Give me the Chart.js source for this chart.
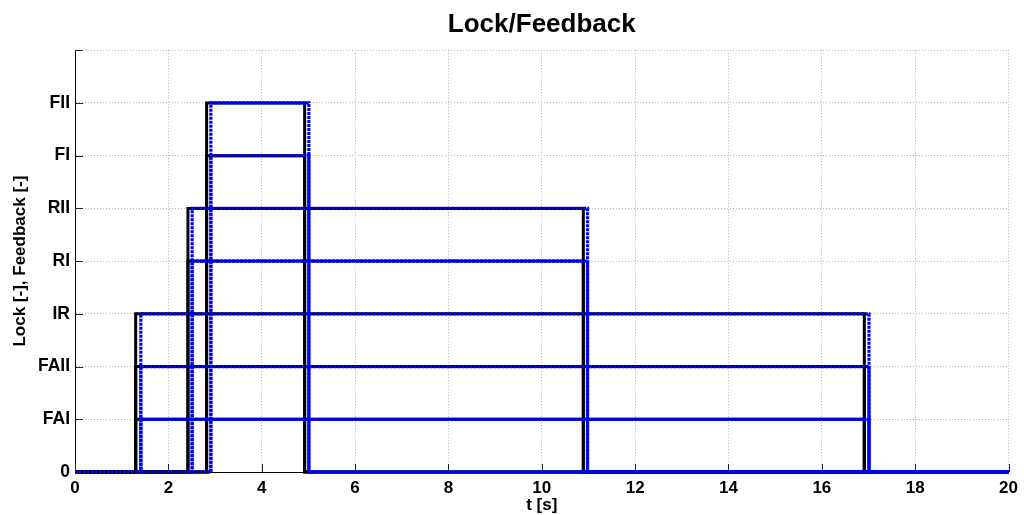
<!DOCTYPE html>
<html>
<head>
<meta charset="utf-8">
<script src="https://cdn.jsdelivr.net/npm/chart.js@4.4.1/dist/chart.umd.min.js"></script>
<style>
  html, body { margin: 0; padding: 0; background: #ffffff; }
  #wrap { width: 1024px; height: 515px; }
</style>
</head>
<body>
<div id="wrap"><canvas id="c" width="1024" height="515"></canvas></div>
<script>
// Y tick labels: state codes shown at integer levels 0..8
const levelNames = ['0', 'FAI', 'FAII', 'IR', 'RI', 'RII', 'FI', 'FII', ''];
// Channels and the level each one occupies while active
const channels = ['FAI', 'FAII', 'IR', 'RI', 'RII', 'FI', 'FII'];
const channelLevel = [1, 2, 3, 4, 5, 6, 7];
// Lock command switch-on / switch-off times [s]
const lockOn  = [1.30, 1.30, 1.30, 2.42, 2.42, 2.82, 2.82];
const lockOff = [16.91, 16.91, 16.91, 10.89, 10.89, 4.92, 4.92];
// Feedback switch-on / switch-off times [s]
const feedbackOn  = [1.41, 1.41, 1.41, 2.51, 2.51, 2.91, 2.91];
const feedbackOff = [17.01, 17.01, 17.01, 10.98, 10.98, 5.01, 5.01];
// Time axis
const tStart = 0;
const tEnd = 20;
const xTickStep = 2;

const FONT = "'Liberation Sans', Arial, Helvetica, sans-serif";

// Step signal: 0 -> level at tOn, level -> 0 at tOff
function stepSignal(level, tOn, tOff) {
  return [
    { x: tStart, y: 0 }, { x: tOn, y: 0 }, { x: tOn, y: level },
    { x: tOff, y: level }, { x: tOff, y: 0 }, { x: tEnd, y: 0 }
  ];
}

const datasets = [];
channels.forEach((name, i) => {
  datasets.push({
    label: 'Lock ' + name,
    data: stepSignal(channelLevel[i], lockOn[i], lockOff[i]),
    borderColor: '#000000',
    borderWidth: 3,
    order: 2
  });
});
channels.forEach((name, i) => {
  datasets.push({
    label: 'Feedback ' + name,
    data: stepSignal(channelLevel[i], feedbackOn[i], feedbackOff[i]),
    borderColor: '#0000ff',
    borderWidth: 3.2,
    borderDash: [3, 1],
    order: 1
  });
});

// Tick marks drawn inward from the axes
const innerTicks = {
  id: 'innerTicks',
  beforeDatasetsDraw(chart) {
    const { ctx, chartArea, scales } = chart;
    const len = 8;
    ctx.save();
    ctx.strokeStyle = '#262626';
    ctx.lineWidth = 1;
    ctx.beginPath();
    scales.x.ticks.forEach(t => {
      const px = Math.round(scales.x.getPixelForValue(t.value)) + 0.5;
      ctx.moveTo(px, chartArea.bottom);
      ctx.lineTo(px, chartArea.bottom - len);
    });
    scales.y.ticks.forEach(t => {
      const py = Math.round(scales.y.getPixelForValue(t.value)) + 0.5;
      ctx.moveTo(chartArea.left, py);
      ctx.lineTo(chartArea.left + len, py);
    });
    ctx.stroke();
    ctx.restore();
  }
};

new Chart(document.getElementById('c'), {
  type: 'scatter',
  data: { datasets },
  options: {
    responsive: false,
    animation: false,
    events: [],
    showLine: true,
    clip: false,
    elements: {
      point: { radius: 0, hoverRadius: 0 },
      line: { tension: 0, borderCapStyle: 'butt', borderJoinStyle: 'miter' }
    },
    layout: { padding: { left: 0, right: 11, top: 0, bottom: 0 } },
    plugins: {
      legend: { display: false },
      tooltip: { enabled: false },
      title: {
        display: true,
        fullSize: false,
        text: 'Lock/Feedback',
        color: '#000000',
        font: { family: FONT, size: 26, weight: 'bold' },
        padding: { top: 9, bottom: 10 }
      }
    },
    scales: {
      x: {
        type: 'linear',
        min: tStart,
        max: tEnd,
        afterFit(s) { s.height = 43; },
        ticks: {
          stepSize: xTickStep,
          color: '#000000',
          padding: 6,
          maxRotation: 0,
          font: { family: FONT, size: 17, weight: 'bold' }
        },
        grid: { color: '#b4b4b4', lineWidth: 1, drawTicks: false },
        border: { display: true, color: '#000000', width: 1, dash: [1, 2] },
        title: {
          display: true,
          text: 't [s]',
          color: '#000000',
          font: { family: FONT, size: 17, weight: 'bold' },
          padding: { top: 0, bottom: -1 }
        }
      },
      y: {
        type: 'linear',
        min: 0,
        max: levelNames.length - 1,
        afterFit(s) { s.width = 75; },
        ticks: {
          stepSize: 1,
          color: '#000000',
          padding: 5,
          font: { family: FONT, size: 17.5, weight: 'bold' },
          callback: v => levelNames[v]
        },
        grid: { color: '#b4b4b4', lineWidth: 1, drawTicks: false },
        border: { display: true, color: '#000000', width: 1, dash: [1, 2] },
        title: {
          display: true,
          text: 'Lock [-], Feedback [-]',
          color: '#000000',
          font: { family: FONT, size: 17, weight: 'bold' },
          padding: { top: 10, bottom: 0 }
        }
      }
    }
  },
  plugins: [innerTicks]
});
</script>
</body>
</html>
